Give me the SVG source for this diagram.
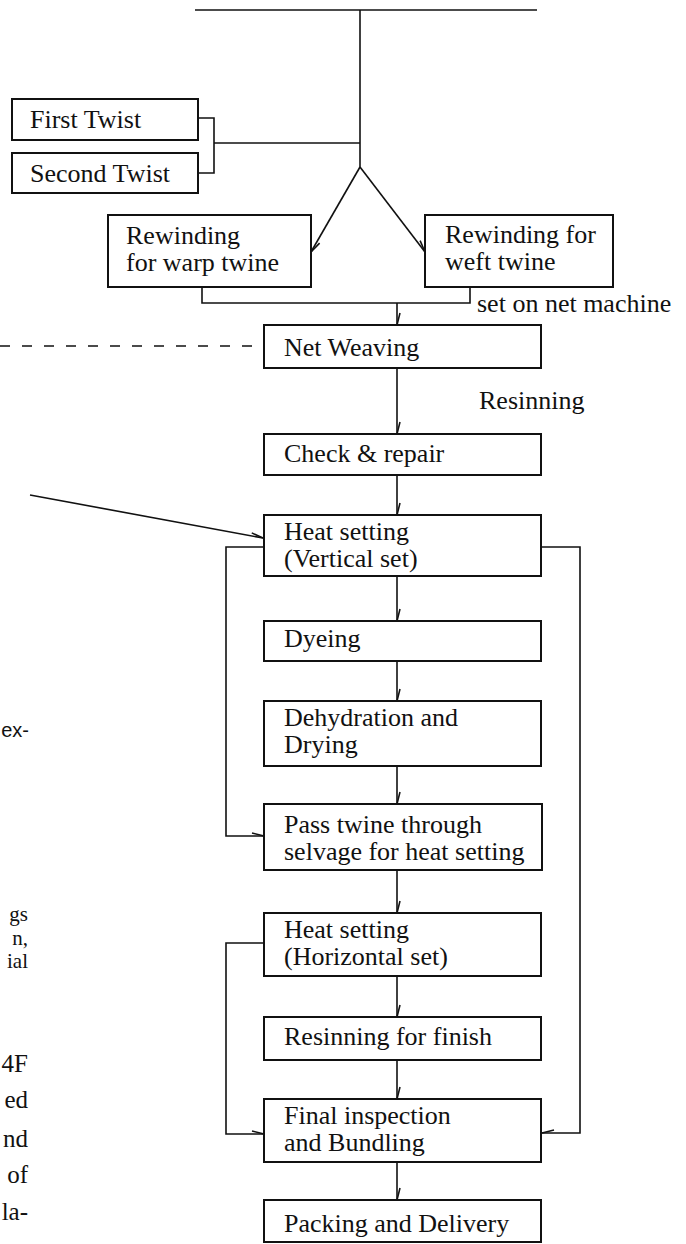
<svg xmlns="http://www.w3.org/2000/svg" width="686" height="1244" viewBox="0 0 686 1244">
<style>
.box{fill:#fff;stroke:#111;stroke-width:2}
.t{font-family:"Liberation Serif","Times New Roman",serif;font-size:26px;fill:#111}
.frag{font-family:"Liberation Serif","Times New Roman",serif;font-size:25px;fill:#111;text-anchor:end}
.fragT{font-family:"Liberation Serif","Times New Roman",serif;font-size:21px;fill:#111;text-anchor:end}
.fragS{font-family:"Liberation Sans",Arial,sans-serif;font-size:20px;fill:#111;text-anchor:end}
.ln{fill:none;stroke:#111;stroke-width:1.6}
.dash{fill:none;stroke:#111;stroke-width:1.6;stroke-dasharray:10 12}
</style>
<defs>
<marker id="barbL" markerUnits="userSpaceOnUse" viewBox="-1 -5 15 10" refX="12" refY="0" markerWidth="15" markerHeight="10" orient="auto">
<path d="M0,-3 L12,0" fill="none" stroke="#111" stroke-width="1.6"/>
</marker>
<marker id="barbR" markerUnits="userSpaceOnUse" viewBox="-1 -5 15 10" refX="12" refY="0" markerWidth="15" markerHeight="10" orient="auto">
<path d="M0,3 L12,0" fill="none" stroke="#111" stroke-width="1.6"/>
</marker>
</defs>

<g id="connectors">
<line class="ln" x1="195" y1="10" x2="537" y2="10"/>
<line class="ln" x1="360" y1="10" x2="360" y2="167"/>
<polyline class="ln" points="198,118 214,118 214,173 198,173"/>
<line class="ln" x1="214" y1="143" x2="360" y2="143"/>
<line class="ln" x1="360" y1="167" x2="311" y2="252" marker-end="url(#barbL)"/>
<line class="ln" x1="360" y1="167" x2="425" y2="252" marker-end="url(#barbL)"/>
<polyline class="ln" points="202,287 202,303 470,303 470,287"/>
<line class="ln" x1="397" y1="303" x2="397" y2="325" marker-end="url(#barbL)"/>
<line class="dash" x1="0" y1="346" x2="256" y2="346"/>
<line class="ln" x1="397" y1="368" x2="397" y2="434" marker-end="url(#barbL)"/>
<line class="ln" x1="30" y1="495" x2="263" y2="538" marker-end="url(#barbL)"/>
<line class="ln" x1="397" y1="475" x2="397" y2="515" marker-end="url(#barbL)"/>
<line class="ln" x1="397" y1="576" x2="397" y2="621" marker-end="url(#barbL)"/>
<line class="ln" x1="397" y1="661" x2="397" y2="701" marker-end="url(#barbL)"/>
<line class="ln" x1="397" y1="766" x2="397" y2="804" marker-end="url(#barbL)"/>
<line class="ln" x1="397" y1="870" x2="397" y2="913" marker-end="url(#barbL)"/>
<line class="ln" x1="397" y1="976" x2="397" y2="1017" marker-end="url(#barbL)"/>
<line class="ln" x1="397" y1="1060" x2="397" y2="1099" marker-end="url(#barbL)"/>
<line class="ln" x1="397" y1="1162" x2="397" y2="1200" marker-end="url(#barbL)"/>
<polyline class="ln" points="264,547 226,547 226,836 264,836" marker-end="url(#barbL)"/>
<polyline class="ln" points="541,547 580,547 580,1133 542,1133" marker-end="url(#barbR)"/>
<polyline class="ln" points="264,943 226,943 226,1134 264,1134" marker-end="url(#barbL)"/>
</g>

<g id="first-twist"><rect class="box" x="12" y="99" width="186" height="41"/><text class="t" x="30" y="128">First Twist</text></g>
<g id="second-twist"><rect class="box" x="12" y="153" width="186" height="40"/><text class="t" x="30" y="182">Second Twist</text></g>
<g id="rewind-warp"><rect class="box" x="108" y="215" width="203" height="72"/><text class="t" x="126" y="244">Rewinding</text><text class="t" x="126" y="271">for warp twine</text></g>
<g id="rewind-weft"><rect class="box" x="425" y="215" width="188" height="72"/><text class="t" x="445" y="243">Rewinding for</text><text class="t" x="445" y="270">weft twine</text></g>
<g id="label-set"><text class="t" x="477" y="312">set on net machine</text></g>
<g id="net-weaving"><rect class="box" x="264" y="325" width="277" height="43"/><text class="t" x="284" y="356">Net Weaving</text></g>
<g id="label-resinning"><text class="t" x="479" y="409">Resinning</text></g>
<g id="check-repair"><rect class="box" x="264" y="434" width="277" height="41"/><text class="t" x="284" y="462">Check &amp; repair</text></g>
<g id="heat-vertical"><rect class="box" x="264" y="515" width="277" height="61"/><text class="t" x="284" y="540">Heat setting</text><text class="t" x="284" y="567">(Vertical set)</text></g>
<g id="dyeing"><rect class="box" x="264" y="621" width="277" height="40"/><text class="t" x="284" y="647">Dyeing</text></g>
<g id="dehydration"><rect class="box" x="264" y="701" width="277" height="65"/><text class="t" x="284" y="726">Dehydration and</text><text class="t" x="284" y="753">Drying</text></g>
<g id="pass-twine"><rect class="box" x="264" y="804" width="278" height="66"/><text class="t" x="284" y="833">Pass twine through</text><text class="t" x="284" y="860">selvage for heat setting</text></g>
<g id="heat-horizontal"><rect class="box" x="264" y="913" width="277" height="63"/><text class="t" x="284" y="938">Heat setting</text><text class="t" x="284" y="965">(Horizontal set)</text></g>
<g id="resinning-finish"><rect class="box" x="264" y="1017" width="277" height="43"/><text class="t" x="284" y="1045">Resinning for finish</text></g>
<g id="final-inspection"><rect class="box" x="264" y="1099" width="277" height="63"/><text class="t" x="284" y="1124">Final inspection</text><text class="t" x="284" y="1151">and Bundling</text></g>
<g id="packing"><rect class="box" x="264" y="1200" width="277" height="42"/><text class="t" x="284" y="1232">Packing and Delivery</text></g>

<g id="margin-text">
<text class="fragS" x="29" y="737">ex-</text>
<text class="fragT" x="28" y="921">gs</text>
<text class="fragT" x="28" y="945">n,</text>
<text class="fragT" x="28" y="968">ial</text>
<text class="frag" x="28" y="1072">4F</text>
<text class="frag" x="28" y="1108">ed</text>
<text class="frag" x="28" y="1147">nd</text>
<text class="frag" x="28" y="1183">of</text>
<text class="frag" x="28" y="1220">la-</text>
</g>
</svg>
